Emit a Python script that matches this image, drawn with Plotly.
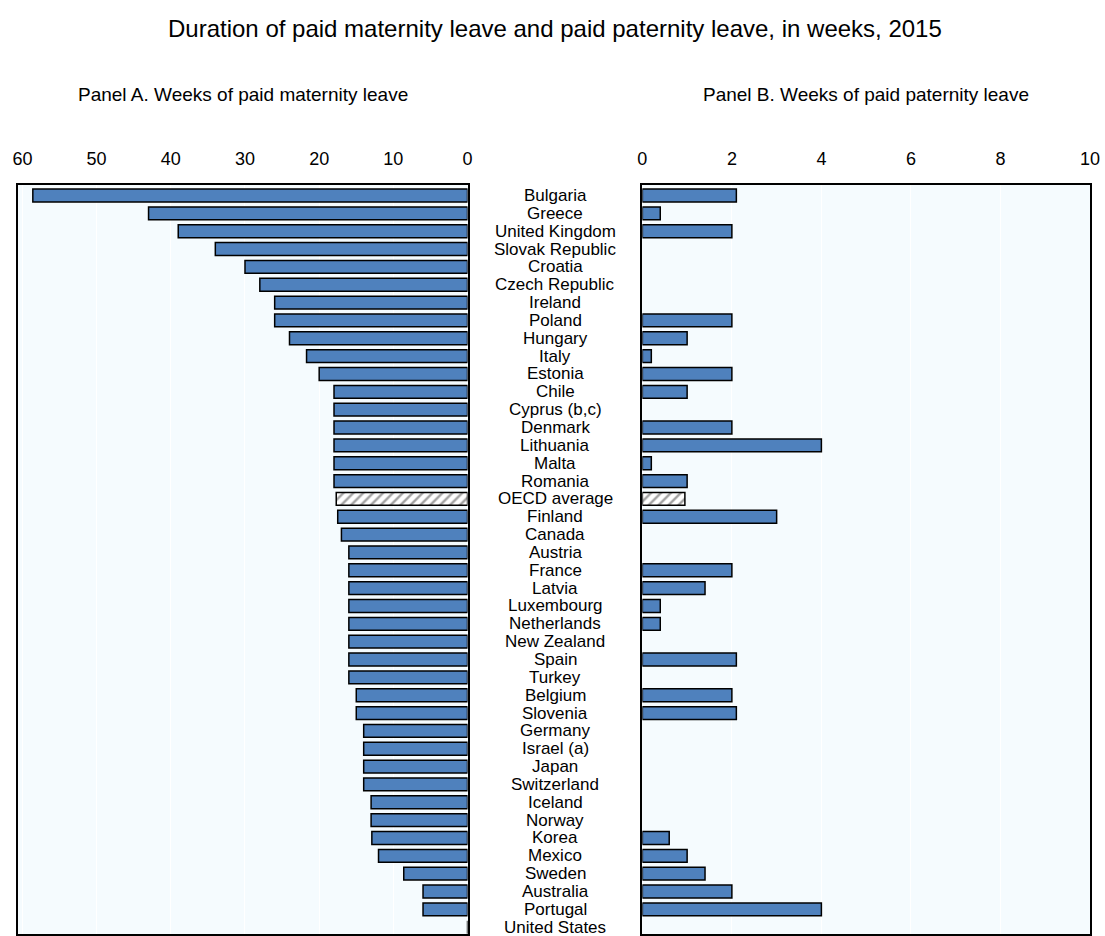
import plotly.graph_objects as go

# Countries, top to bottom
countries = [
    "Bulgaria", "Greece", "United Kingdom", "Slovak Republic", "Croatia",
    "Czech Republic", "Ireland", "Poland", "Hungary", "Italy", "Estonia",
    "Chile", "Cyprus (b,c)", "Denmark", "Lithuania", "Malta", "Romania",
    "OECD average", "Finland", "Canada", "Austria", "France", "Latvia",
    "Luxembourg", "Netherlands", "New Zealand", "Spain", "Turkey", "Belgium",
    "Slovenia", "Germany", "Israel (a)", "Japan", "Switzerland", "Iceland",
    "Norway", "Korea", "Mexico", "Sweden", "Australia", "Portugal",
    "United States",
]

# Weeks of paid maternity leave
maternity_weeks = [
    58.6, 43, 39, 34, 30, 28, 26, 26, 24, 21.7, 20,
    18, 18, 18, 18, 18, 18,
    17.7, 17.5, 17, 16, 16, 16, 16, 16, 16, 16, 16, 15,
    15, 14, 14, 14, 14, 13, 13, 12.9, 12, 8.6, 6, 6,
    0,
]

# Weeks of paid paternity leave (None = no paid paternity leave)
paternity_weeks = [
    2.1, 0.4, 2.0, None, None, None, None, 2.0, 1.0, 0.2, 2.0,
    1.0, None, 2.0, 4.0, 0.2, 1.0,
    0.95, 3.0, None, None, 2.0, 1.4, 0.4, 0.4, None, 2.1, None, 2.0,
    2.1, None, None, None, None, None, None, 0.6, 1.0, 1.4, 2.0, 4.0,
    None,
]

maternity_ticks = [60, 50, 40, 30, 20, 10, 0]
paternity_ticks = [0, 2, 4, 6, 8, 10]

AVERAGE = "OECD average"
BAR_BLUE = "#4F81BD"
PLOT_BG = "#F5FBFE"
ARIAL = "Liberation Sans, Arial, sans-serif"

W, H = 1105, 936


def px_x(p):
    # horizontal page position -> paper fraction
    return (p - 7) / 0.9865 / W


def px_y(p):
    return 1 - p / H


def bar_styles(names):
    is_avg = [n == AVERAGE for n in names]
    colors = ["white" if a else BAR_BLUE for a in is_avg]
    shapes = ["/" if a else "" for a in is_avg]
    return colors, shapes


colors, shapes = bar_styles(countries)
bar_marker = dict(
    color=colors,
    line=dict(color="black", width=1.5),
    pattern=dict(shape=shapes, fgcolor="#333333", bgcolor="white",
                 size=7, solidity=0.35),
)

fig = go.Figure()

fig.add_trace(go.Bar(
    x=maternity_weeks, y=countries, orientation="h",
    xaxis="x", yaxis="y", width=0.72, marker=bar_marker,
    showlegend=False, hoverinfo="x+y",
))

fig.add_trace(go.Bar(
    x=paternity_weeks, y=countries, orientation="h",
    xaxis="x2", yaxis="y2", width=0.72, marker=bar_marker,
    showlegend=False, hoverinfo="x+y",
))

n = len(countries)
y_range = [n - 1 + 0.38, -0.6]
y_dom = [px_y(935), px_y(185)]

common_x = dict(
    side="top", showgrid=True, gridcolor="white", gridwidth=1,
    zeroline=False, showline=True, linecolor="black", linewidth=1.5,
    mirror=True, ticks="", ticklabelstandoff=11,
    tickfont=dict(family=ARIAL, size=18, color="black"),
)
common_y = dict(
    type="category", categoryorder="array", categoryarray=countries,
    range=y_range, showticklabels=False, showgrid=False, zeroline=False,
    showline=True, linecolor="black", linewidth=1.5, mirror=True,
    ticks="", domain=y_dom,
)

fig.update_layout(
    width=W, height=H, autosize=False,
    margin=dict(l=0, r=0, t=0, b=0, pad=0),
    paper_bgcolor="white", plot_bgcolor=PLOT_BG,
    xaxis=dict(domain=[px_x(19), px_x(469)], range=[60.6, 0],
               tickvals=maternity_ticks, anchor="y", **common_x),
    xaxis2=dict(domain=[px_x(644), px_x(1092)], range=[0, 10],
                tickvals=paternity_ticks, anchor="y2", **common_x),
    yaxis=dict(anchor="x", **common_y),
    yaxis2=dict(anchor="x2", **common_y),
)

# Shared country labels between the two panels
for c in countries:
    fig.add_annotation(
        x=px_x(557), xref="paper", y=c, yref="y",
        text=c, showarrow=False, xanchor="center", yanchor="middle",
        font=dict(family=ARIAL, size=17, color="black"),
    )

fig.add_annotation(
    x=px_x(557), xref="paper", y=px_y(29), yref="paper",
    text="Duration of paid maternity leave and paid paternity leave, in weeks, 2015",
    showarrow=False, xanchor="center", yanchor="middle",
    font=dict(family=ARIAL, size=24, color="black"),
)
fig.add_annotation(
    x=px_x(244), xref="paper", y=px_y(95), yref="paper",
    text="Panel A. Weeks of paid maternity leave",
    showarrow=False, xanchor="center", yanchor="middle",
    font=dict(family=ARIAL, size=19, color="black"),
)
fig.add_annotation(
    x=px_x(868), xref="paper", y=px_y(95), yref="paper",
    text="Panel B. Weeks of paid paternity leave",
    showarrow=False, xanchor="center", yanchor="middle",
    font=dict(family=ARIAL, size=19, color="black"),
)

fig.write_html("out.html")
